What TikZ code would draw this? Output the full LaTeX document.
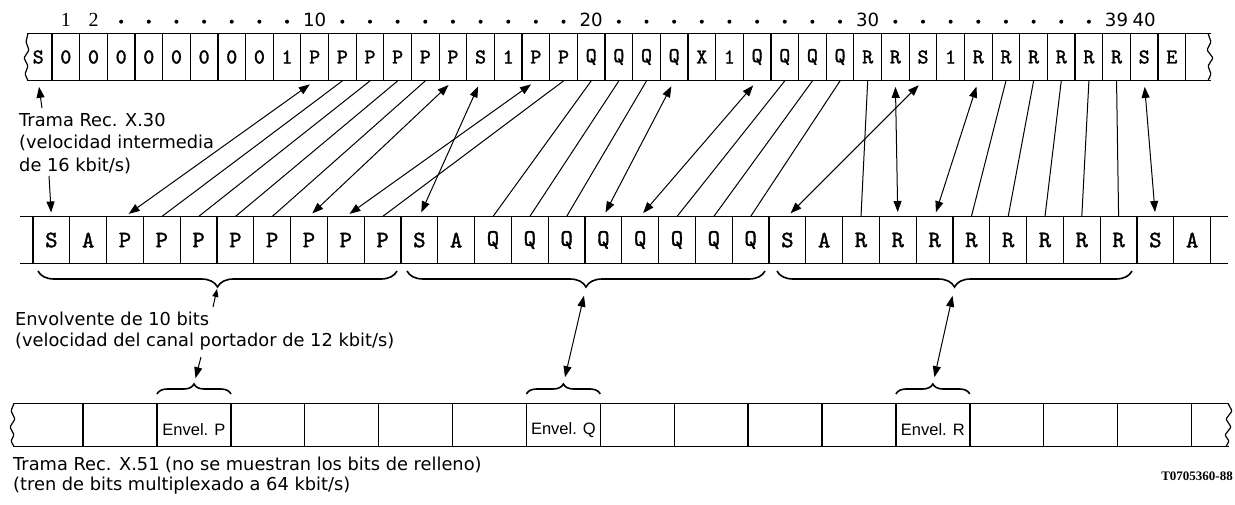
\documentclass[tikz,border=0pt]{standalone}
\usepackage{fontspec}
\usetikzlibrary{arrows.meta,decorations.pathreplacing}
\newfontfamily\labfont{DejaVu Sans}
\newfontfamily\envfont{Liberation Sans}
\newfontfamily\serfont{Liberation Serif}
\newfontfamily\typfont[RawFeature={embolden=1.5}]{lmmono10-regular.otf}
\begin{document}
\begin{tikzpicture}[x=1pt,y=-1pt,
  tcell/.style={minimum width=27.65pt,minimum height=47.4pt,inner sep=0pt,font=\typfont\fontsize{21}{24}\selectfont},
  mcell/.style={minimum width=36.8pt,minimum height=46.6pt,inner sep=0pt,font=\typfont\fontsize{23.5}{26}\selectfont},
  bcell/.style={inner sep=0pt,font=\envfont\fontsize{16.5}{18}\selectfont},
  rowline/.style={line width=1.2pt},
  conn/.style={line width=1pt},
  tip/.style={-{Triangle[length=11pt,width=8pt]}},
  dbl/.style={conn,{Triangle[length=11pt,width=8pt]}-{Triangle[length=11pt,width=8pt]},shorten <=6pt,shorten >=4.5pt},
  brc/.style={decorate,decoration={brace,amplitude=#1},line width=1.6pt},
  lbl/.style={font=\labfont\fontsize{17.8}{22.3}\selectfont,align=left,inner sep=0pt,anchor=north west},
  num/.style={font=\labfont\fontsize{18.2}{20}\selectfont,inner sep=0pt}
]
\useasboundingbox (0,0) rectangle (1235,504);

% ---------- top row (Rec. X.30 frame)
\draw[rowline] (27,33.3) -- (1211,33.3);
\draw[rowline] (27,80.7) -- (1211,80.7);
\foreach \k in {1,...,42} \draw[rowline] ({52+27.65*(\k-1)},33.3) -- ({52+27.65*(\k-1)},80.7);
\draw[rowline,rounded corners=1pt] (28,33.3) -- (26,42) -- (29,50) -- (24,58) -- (28,66) -- (25,74) -- (28,80.7);
\draw[rowline,rounded corners=1pt] (1208,33.3) -- (1211,42) -- (1207,50) -- (1213,58) -- (1208,66) -- (1211,74) -- (1208,80.7);
\foreach \s [count=\k from 0] in {S,0,0,0,0,0,0,0,0,1,P,P,P,P,P,P,S,1,P,P,Q,Q,Q,Q,X,1,Q,Q,Q,Q,R,R,S,1,R,R,R,R,R,R,S,E}
  \node[tcell] (t\k) at ({38.2+27.65*\k},57) {\s};

% numbering
\node[font=\serfont\fontsize{20}{20}\selectfont,inner sep=0pt] (n1) at (65.8,19.7) {1};
\node[font=\serfont\fontsize{20}{20}\selectfont,inner sep=0pt] (n2) at (93.5,19.7) {2};
\foreach \k in {10,20,30,39,40} \node[num] (n\k) at ({38.2+27.65*\k},19.7) {\k};
\foreach \k in {3,...,9} \fill ({38.2+27.65*\k},21.7) circle (2pt);
\foreach \k in {11,...,19} \fill ({38.2+27.65*\k},21.7) circle (2pt);
\foreach \k in {21,...,29} \fill ({38.2+27.65*\k},21.7) circle (2pt);
\foreach \k in {31,...,38} \fill ({38.2+27.65*\k},21.7) circle (2pt);

% ---------- middle row
\draw[rowline] (20,216.7) -- (1228,216.7);
\draw[rowline] (20,263.3) -- (1228,263.3);
\foreach \j in {0,...,32} \draw[rowline] ({33+36.8*\j},216.7) -- ({33+36.8*\j},263.3);
\foreach \s [count=\j from 0] in {S,A,P,P,P,P,P,P,P,P,S,A,Q,Q,Q,Q,Q,Q,Q,Q,S,A,R,R,R,R,R,R,R,R,S,A}
  \node[mcell] (m\j) at ({51.4+36.8*\j},240) {\s};

% ---------- connectors top <-> middle
\foreach \a/\b in {11/3,12/4,13/5,14/6,19/9,20/12,21/13,22/14,27/17,28/18,29/19,30/22,35/25,36/26,37/27,38/28,39/29}
  \draw[conn] (t\a.south) -- (m\b.north);
\foreach \a/\b in {10/2,15/7,18/8,16/10,23/15,26/16,32/20,31/23,34/24,40/30}
  \draw[dbl] (t\a.south) -- (m\b.north);

% ---------- label X.30
\node[lbl] (l30) at (19,113) {Trama Rec. X.30\\(velocidad intermedia\\de 16 kbit/s)};
\coordinate (a1) at (42,108);
\draw[conn,tip,shorten >=6pt] (a1) -- (t0.south);
\coordinate (a2) at (49,176);
\draw[conn,tip,shorten >=4pt] (a2) -- (m0.north);

% ---------- braces under middle row
\draw[brc=16pt] (397,271) -- (38,271);
\draw[brc=16pt] (765,271) -- (407,271);
\draw[brc=16pt] (1132,271) -- (777,271);
\coordinate (bt1) at (217.5,287);
\coordinate (bt2) at (586,287);
\coordinate (bt3) at (954.5,287);

\node[lbl,font=\labfont\fontsize{17.8}{21}\selectfont] (lenv) at (15,312) {Envolvente de 10 bits\\(velocidad del canal portador de 12 kbit/s)};
\coordinate (a3) at (213,307);
\draw[conn,-{Triangle[length=8pt,width=6pt]},shorten >=2pt] (a3) -- (bt1);

% ---------- bottom row (Rec. X.51 frame)
\draw[rowline,line width=1.4pt] (14,403.3) -- (1229,403.3);
\draw[rowline,line width=1.4pt] (14,446.7) -- (1229,446.7);
\foreach \k in {0,...,15} \draw[rowline,line width=1.4pt] ({83+73.9*\k},403.3) -- ({83+73.9*\k},446.7);
\draw[rowline,rounded corners=1pt] (14,403.3) -- (11,411) -- (15,419) -- (10,427) -- (14,435) -- (11,441) -- (14,446.7);
\draw[rowline,rounded corners=1pt] (1228,403.3) -- (1232,411) -- (1226,419) -- (1231,427) -- (1225,435) -- (1229,441) -- (1226,446.7);
\node[bcell] (eP) at (193.9,430) {Envel. P};
\node[bcell] (eQ) at (563.4,430) {Envel. Q};
\node[bcell] (eR) at (932.9,430) {Envel. R};

\draw[brc=10pt] (157,394) -- (231,394);
\draw[brc=10pt] (526.4,394) -- (600.3,394);
\draw[brc=10pt] (895.9,394) -- (969.8,394);
\coordinate (bbP) at (194,384);
\coordinate (bbQ) at (563.4,384);
\coordinate (bbR) at (932.9,384);

\coordinate (a4) at (201,357);
\draw[conn,tip,shorten >=6pt] (a4) -- (bbP);
\draw[dbl,shorten <=9pt,shorten >=7pt] (bt2) -- (bbQ);
\draw[dbl,shorten <=9pt,shorten >=7pt] (bt3) -- (bbR);

\node[lbl,font=\labfont\fontsize{17.8}{20}\selectfont] (l51) at (13,457) {Trama Rec. X.51 (no se muestran los bits de relleno)\\(tren de bits multiplexado a 64 kbit/s)};
\node[font=\serfont\bfseries\fontsize{13}{15}\selectfont,inner sep=0pt,anchor=east] (code) at (1233,476) {T0705360-88};
\end{tikzpicture}
\end{document}
